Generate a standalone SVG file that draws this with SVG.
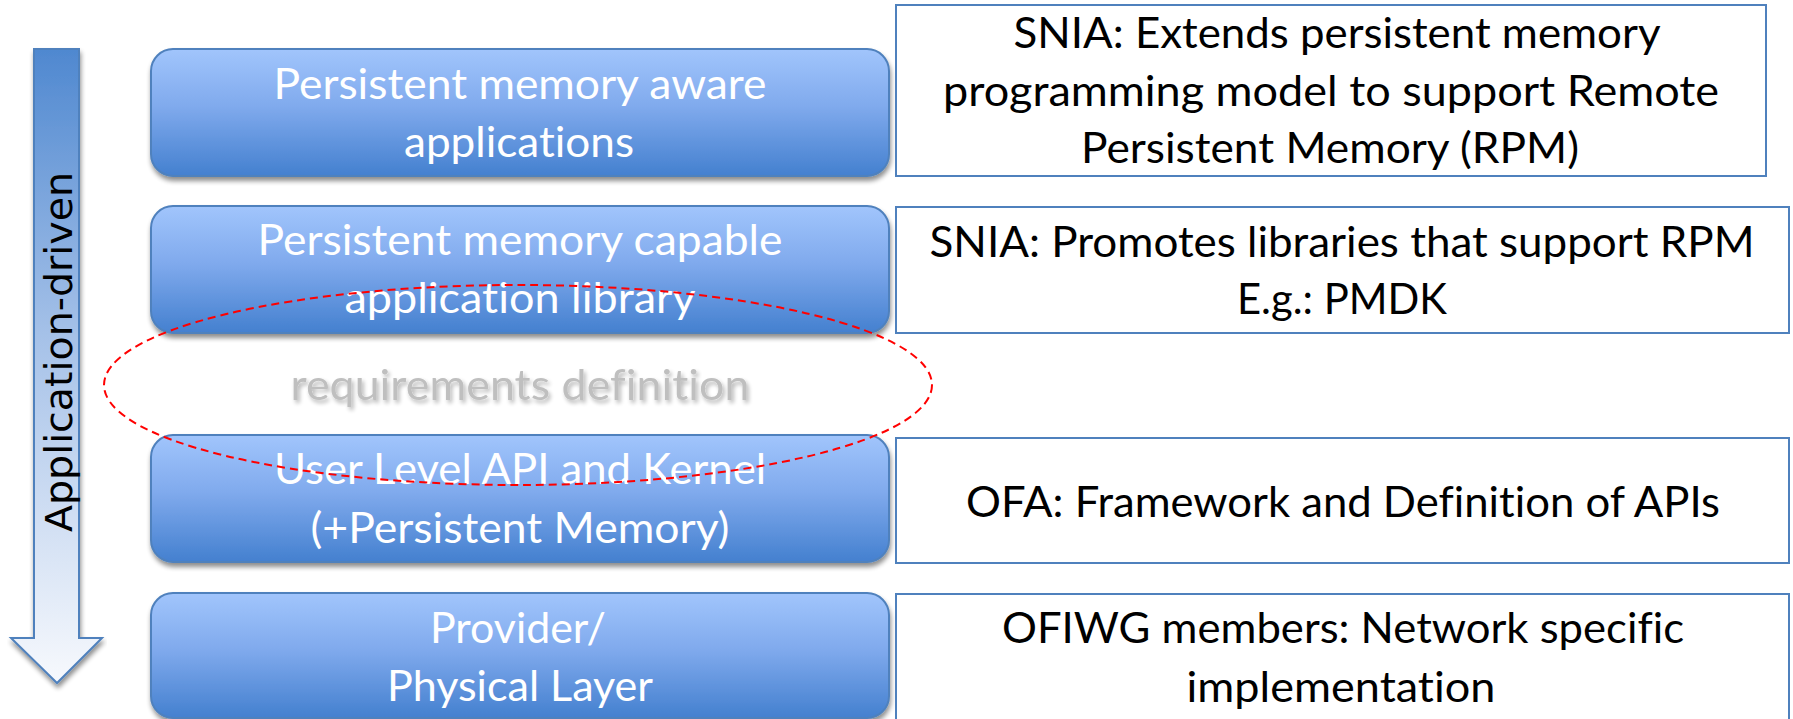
<svg xmlns="http://www.w3.org/2000/svg" width="1793" height="719" viewBox="0 0 1793 719">
<style>
.layer{fill:url(#boxGrad);stroke:#4f81bd;stroke-width:2;filter:url(#shadow)}
.note{fill:#ffffff;stroke:#4f81bd;stroke-width:2}
.wt,.bt,.req{font-family:Lato,"Open Sans",sans-serif;font-size:43px;text-anchor:middle;font-variant-ligatures:none}
.wt{fill:#ffffff}
.bt{fill:#000000}
.req{fill:#bfbfbf;filter:url(#tshadow)}
.vt{font-family:"DejaVu Sans",sans-serif;font-size:37px;fill:#000000;text-anchor:middle}
</style>
<defs>
<linearGradient id="boxGrad" x1="0" y1="0" x2="0" y2="1">
<stop offset="0" stop-color="#a1c5fc"/>
<stop offset="0.45" stop-color="#80aaed"/>
<stop offset="1" stop-color="#4480cf"/>
</linearGradient>
<linearGradient id="arrowGrad" x1="0" y1="0" x2="0" y2="1">
<stop offset="0" stop-color="#4f88d0"/>
<stop offset="0.45" stop-color="#a5c1e8"/>
<stop offset="1" stop-color="#f7f9fd"/>
</linearGradient>
<filter id="shadow" x="-5%" y="-10%" width="110%" height="130%">
<feGaussianBlur in="SourceAlpha" stdDeviation="2.5"/>
<feOffset dx="1" dy="4" result="b"/>
<feComponentTransfer><feFuncA type="linear" slope="0.45"/></feComponentTransfer>
<feMerge><feMergeNode/><feMergeNode in="SourceGraphic"/></feMerge>
</filter>
<filter id="tshadow" x="-5%" y="-20%" width="110%" height="150%">
<feGaussianBlur in="SourceAlpha" stdDeviation="2"/>
<feOffset dx="2" dy="3"/>
<feComponentTransfer><feFuncA type="linear" slope="0.3"/></feComponentTransfer>
<feMerge><feMergeNode/><feMergeNode in="SourceGraphic"/></feMerge>
</filter>
</defs>
<rect width="1793" height="719" fill="#ffffff"/>

<g id="arrow">
<polygon points="34,49 79,49 79,638 102,638 57,683 11,638 34,638" fill="url(#arrowGrad)" stroke="#4f81bd" stroke-width="2" filter="url(#shadow)"/>
<text class="vt" transform="translate(72,352) rotate(-90)" textLength="360" lengthAdjust="spacingAndGlyphs">Application-driven</text>
</g>

<g id="layer1">
<rect class="layer" x="151" y="49" width="738" height="127" rx="22"/>
<text class="wt" x="520" y="99" textLength="493" lengthAdjust="spacingAndGlyphs">Persistent memory aware</text>
<text class="wt" x="519" y="157" textLength="230" lengthAdjust="spacingAndGlyphs">applications</text>
</g>
<g id="layer2">
<rect class="layer" x="151" y="206" width="738" height="127" rx="22"/>
<text class="wt" x="520" y="255" textLength="525" lengthAdjust="spacingAndGlyphs">Persistent memory capable</text>
<text class="wt" x="520" y="313" textLength="351" lengthAdjust="spacingAndGlyphs">application library</text>
</g>
<g id="layer3">
<rect class="layer" x="151" y="435" width="738" height="127" rx="22"/>
<text class="wt" x="520" y="484" textLength="492" lengthAdjust="spacingAndGlyphs">User Level API and Kernel</text>
<text class="wt" x="520" y="543" textLength="419" lengthAdjust="spacingAndGlyphs">(+Persistent Memory)</text>
</g>
<g id="layer4">
<rect class="layer" x="151" y="593" width="738" height="125" rx="22"/>
<text class="wt" x="518" y="643" textLength="176" lengthAdjust="spacingAndGlyphs">Provider/</text>
<text class="wt" x="520" y="701" textLength="266" lengthAdjust="spacingAndGlyphs">Physical Layer</text>
</g>

<g id="requirements">
<text class="req" x="520" y="400" textLength="459" lengthAdjust="spacingAndGlyphs">requirements definition</text>
</g>

<g id="noteA">
<rect class="note" x="896" y="5" width="870" height="171"/>
<text class="bt" x="1337" y="48" textLength="647" lengthAdjust="spacingAndGlyphs">SNIA: Extends persistent memory</text>
<text class="bt" x="1331" y="106" textLength="776" lengthAdjust="spacingAndGlyphs">programming model to support Remote</text>
<text class="bt" x="1330" y="163" textLength="498" lengthAdjust="spacingAndGlyphs">Persistent Memory (RPM)</text>
</g>
<g id="noteB">
<rect class="note" x="896" y="207" width="893" height="126"/>
<text class="bt" x="1342" y="257" textLength="825" lengthAdjust="spacingAndGlyphs">SNIA: Promotes libraries that support RPM</text>
<text class="bt" x="1342" y="314" textLength="210" lengthAdjust="spacingAndGlyphs">E.g.: PMDK</text>
</g>
<g id="noteC">
<rect class="note" x="896" y="438" width="893" height="125"/>
<text class="bt" x="1343" y="517" textLength="754" lengthAdjust="spacingAndGlyphs">OFA: Framework and Definition of APIs</text>
</g>
<g id="noteD">
<rect class="note" x="896" y="594" width="893" height="140"/>
<text class="bt" x="1343" y="643" textLength="682" lengthAdjust="spacingAndGlyphs">OFIWG members: Network specific</text>
<text class="bt" x="1341" y="702" textLength="309" lengthAdjust="spacingAndGlyphs">implementation</text>
</g>

<g id="connectors">
<ellipse cx="518" cy="385" rx="414" ry="100" fill="none" stroke="#ff0000" stroke-width="2" stroke-dasharray="8,5"/>
</g>
</svg>
